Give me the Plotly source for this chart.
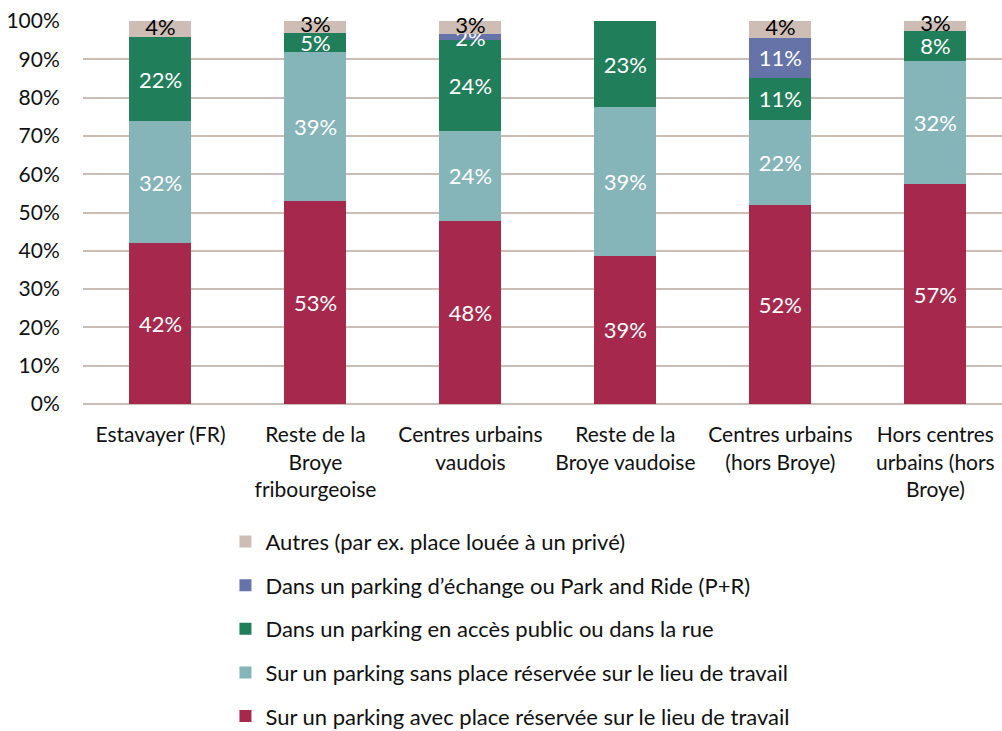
import plotly.graph_objects as go

categories = ["Estavayer (FR)", "Reste de la<br>Broye<br>fribourgeoise", "Centres urbains<br>vaudois",
              "Reste de la<br>Broye vaudoise", "Centres urbains<br>(hors Broye)", "Hors centres<br>urbains (hors<br>Broye)"]

avec = [42.0, 53.0, 47.8, 38.7, 52.0, 57.4]
sans = [31.9, 38.9, 23.5, 38.8, 22.2, 32.2]
public = [21.9, 5.0, 23.7, 22.5, 10.9, 7.8]
pr = [0, 0, 1.6, 0, 10.5, 0]
autres = [4.2, 3.1, 3.4, 0, 4.4, 2.6]

avec_lbl = ["42%", "53%", "48%", "39%", "52%", "57%"]
sans_lbl = ["32%", "39%", "24%", "39%", "22%", "32%"]
public_lbl = ["22%", "5%", "24%", "23%", "11%", "8%"]
pr_lbl = ["", "", "2%", "", "11%", ""]
autres_lbl = ["4%", "3%", "3%", "", "4%", "3%"]

series = [
    ("Sur un parking avec place réservée sur le lieu de travail", avec, avec_lbl, "#A6294D", "white"),
    ("Sur un parking sans place réservée sur le lieu de travail", sans, sans_lbl, "#85B4B9", "white"),
    ("Dans un parking en accès public ou dans la rue", public, public_lbl, "#217E5A", "white"),
    ("Dans un parking d’échange ou Park and Ride (P+R)", pr, pr_lbl, "#6673A8", "white"),
    ("Autres (par ex. place louée à un privé)", autres, autres_lbl, "#CDBDB4", "black"),
]

FONT = "Lato, 'Open Sans', sans-serif"
FS = 21
FL = 22

fig = go.Figure()
n = len(series)
for i, (name, vals, lbls, color, tcol) in enumerate(series):
    is_top = (i == n - 1)
    fig.add_trace(go.Bar(
        x=categories, y=vals, name=name, text=None if is_top else lbls,
        textposition="inside", insidetextanchor="middle", textangle=0,
        constraintext="none",
        textfont=dict(color=tcol, size=FL, family=FONT),
        marker=dict(color=color, line=dict(width=0)),
        legendgroup=f"g{i}", legendrank=n - i, hoverinfo="skip", cliponaxis=False,
    ))

# labels of the top ("Autres") segment, centred on the segment
base = [a + s + p + r for a, s, p, r in zip(avec, sans, public, pr)]
mid = [b + v / 2 for b, v in zip(base, autres)]
fig.add_trace(go.Scatter(
    x=categories, y=mid, mode="text", text=autres_lbl,
    textposition="middle center",
    textfont=dict(color="black", size=FL, family=FONT),
    showlegend=False, hoverinfo="skip", cliponaxis=False,
))

fig.update_layout(
    barmode="stack", bargap=0.6,
    width=1002, height=731,
    margin=dict(l=83, r=0, t=21, b=327, autoexpand=False),
    paper_bgcolor="white", plot_bgcolor="white",
    font=dict(family=FONT, size=FS, color="#111111"),
    showlegend=True,
    legend=dict(
        x=0.155, xanchor="left", y=-0.305, yanchor="top",
        traceorder="grouped", tracegroupgap=12,
        font=dict(size=FL, family=FONT, color="#111111"),
        bgcolor="rgba(0,0,0,0)",
    ),
)
fig.update_xaxes(
    range=[-0.5, 5.43], showgrid=False, showline=False, zeroline=False, automargin=False,
    ticks="outside", ticklen=12, tickcolor="rgba(0,0,0,0)",
    tickfont=dict(size=FS, family=FONT, color="#111111"),
)
fig.update_yaxes(
    range=[0, 100], dtick=10, ticksuffix="%", automargin=False,
    showgrid=True, gridcolor="#CBBDB4", gridwidth=2,
    zeroline=True, zerolinecolor="#CBBDB4", zerolinewidth=2,
    showline=False, ticks="outside", ticklen=18, tickcolor="rgba(0,0,0,0)",
    tickfont=dict(size=FS, family=FONT, color="#111111"),
)

fig.write_html("out.html", config={"displayModeBar": False},
               post_script="document.body.style.margin='0';document.body.style.overflow='hidden';")
